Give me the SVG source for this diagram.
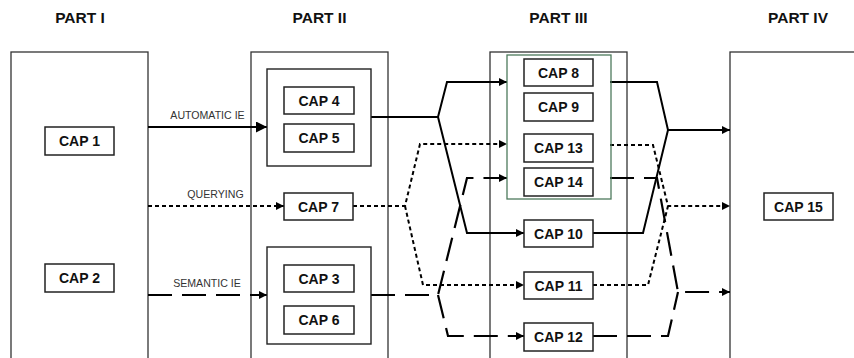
<svg xmlns="http://www.w3.org/2000/svg" width="854" height="358" viewBox="0 0 854 358">
  <style>
    .part { fill: #fff; stroke: #333; stroke-width: 1.3; }
    .grp { fill: none; stroke: #222; stroke-width: 1.4; }
    .green { fill: none; stroke: #4d7a5c; stroke-width: 1.3; }
    .cap { fill: #fff; stroke: #222; stroke-width: 1.5; }
    .head { font-family: "Liberation Sans", Arial, sans-serif; font-weight: bold; font-size: 15.5px; fill: #111; text-anchor: middle; }
    .capt { font-family: "Liberation Sans", Arial, sans-serif; font-weight: bold; font-size: 14px; fill: #111; text-anchor: middle; }
    .lbl { font-family: "Liberation Sans", Arial, sans-serif; font-size: 10.6px; fill: #333; text-anchor: middle; }
    .s { fill: none; stroke: #000; stroke-width: 2; stroke-linejoin: miter; }
    .d { fill: none; stroke: #000; stroke-width: 2; stroke-dasharray: 4 3; }
    .l { fill: none; stroke: #000; stroke-width: 2.2; stroke-dasharray: 24 10; }
  </style>
  <defs>
    <marker id="ah" viewBox="0 0 8 8" refX="8" refY="4" markerWidth="8" markerHeight="8" markerUnits="userSpaceOnUse" orient="auto">
      <path d="M0,0 L8,4 L0,8 z" fill="#000"/>
    </marker>
    <marker id="ahBig" viewBox="0 0 11 11" refX="11" refY="5.5" markerWidth="11" markerHeight="11" markerUnits="userSpaceOnUse" orient="auto">
      <path d="M0,0 L11,5.5 L0,11 z" fill="#000"/>
    </marker>
  </defs>

  <!-- column headings -->
  <text class="head" x="80" y="23">PART I</text>
  <text class="head" x="319.5" y="23">PART II</text>
  <text class="head" x="558.5" y="23">PART III</text>
  <text class="head" x="798" y="23">PART IV</text>

  <!-- part containers -->
  <g id="part1"><rect class="part" x="11" y="52" width="137" height="320"/></g>
  <g id="part2"><rect class="part" x="251" y="52" width="137" height="320"/></g>
  <g id="part3"><rect class="part" x="490" y="52" width="137" height="320"/></g>
  <g id="part4"><rect class="part" x="730" y="52" width="137" height="320"/></g>

  <!-- connectors -->
  <g id="connectors">
    <!-- automatic IE (solid) -->
    <path class="s" d="M148,127 H267" stroke-width="2.6" marker-end="url(#ahBig)"/>
    <path class="s" d="M371,117 H438 L447,82 H507" marker-end="url(#ah)"/>
    <path class="s" d="M438,117 L467,233 H524" marker-end="url(#ah)"/>
    <path class="s" d="M610,82 H657 L668,130 H730" marker-end="url(#ah)"/>
    <path class="s" d="M593,233 H643 L668,130"/>

    <!-- querying (dotted) -->
    <path class="d" d="M148,206 H284" marker-end="url(#ah)"/>
    <path class="d" d="M353,206 H405 L420,144 H507" marker-end="url(#ah)"/>
    <path class="d" d="M405,206 L423,285 H524" marker-end="url(#ah)"/>
    <path class="d" d="M610,145 H653 L668,206 H730" marker-end="url(#ah)"/>
    <path class="d" d="M593,285 H648 L668,206"/>

    <!-- semantic IE (dashed) -->
    <path class="l" d="M148,295 H267" marker-end="url(#ah)"/>
    <path class="l" d="M371,295 H438 L467,178 H507" marker-end="url(#ah)"/>
    <path class="l" d="M438,295 L448,336 H524" marker-end="url(#ah)"/>
    <path class="l" d="M610,178 H657 L678,292 H730" marker-end="url(#ah)"/>
    <path class="l" d="M593,336 H668 L678,292"/>
  </g>

  <!-- connector labels -->
  <text class="lbl" x="207.5" y="119">AUTOMATIC IE</text>
  <text class="lbl" x="215.5" y="198">QUERYING</text>
  <text class="lbl" x="207" y="287">SEMANTIC IE</text>

  <!-- grouping frames -->
  <g id="grp45"><rect class="grp" x="267" y="69" width="104" height="97"/></g>
  <g id="grp36"><rect class="grp" x="267" y="247" width="104" height="97"/></g>
  <g id="grp8914"><rect class="green" x="507" y="55" width="104" height="144"/></g>

  <!-- capability nodes -->
  <g id="cap1"><rect class="cap" x="45" y="127" width="69" height="28"/><text class="capt" x="79.5" y="146">CAP 1</text></g>
  <g id="cap2"><rect class="cap" x="45" y="264" width="69" height="28"/><text class="capt" x="79.5" y="283">CAP 2</text></g>
  <g id="cap4"><rect class="cap" x="284" y="87" width="70" height="27"/><text class="capt" x="319" y="105.5">CAP 4</text></g>
  <g id="cap5"><rect class="cap" x="284" y="124" width="70" height="28"/><text class="capt" x="319" y="143">CAP 5</text></g>
  <g id="cap7"><rect class="cap" x="284" y="193" width="69" height="27"/><text class="capt" x="318.5" y="211.5">CAP 7</text></g>
  <g id="cap3"><rect class="cap" x="284" y="265" width="70" height="27"/><text class="capt" x="319" y="283.5">CAP 3</text></g>
  <g id="cap6"><rect class="cap" x="284" y="306" width="70" height="28"/><text class="capt" x="319" y="325">CAP 6</text></g>
  <g id="cap8"><rect class="cap" x="524" y="59" width="69" height="27"/><text class="capt" x="558.5" y="77.5">CAP 8</text></g>
  <g id="cap9"><rect class="cap" x="524" y="93" width="69" height="28"/><text class="capt" x="558.5" y="112">CAP 9</text></g>
  <g id="cap13"><rect class="cap" x="524" y="134" width="69" height="28"/><text class="capt" x="558.5" y="153">CAP 13</text></g>
  <g id="cap14"><rect class="cap" x="524" y="168" width="69" height="28"/><text class="capt" x="558.5" y="187">CAP 14</text></g>
  <g id="cap10"><rect class="cap" x="524" y="220" width="69" height="27"/><text class="capt" x="558.5" y="238.5">CAP 10</text></g>
  <g id="cap11"><rect class="cap" x="524" y="272" width="69" height="27"/><text class="capt" x="558.5" y="290.5">CAP 11</text></g>
  <g id="cap12"><rect class="cap" x="524" y="323" width="69" height="28"/><text class="capt" x="558.5" y="342">CAP 12</text></g>
  <g id="cap15"><rect class="cap" x="764" y="193" width="69" height="27"/><text class="capt" x="798.5" y="211.5">CAP 15</text></g>
</svg>
